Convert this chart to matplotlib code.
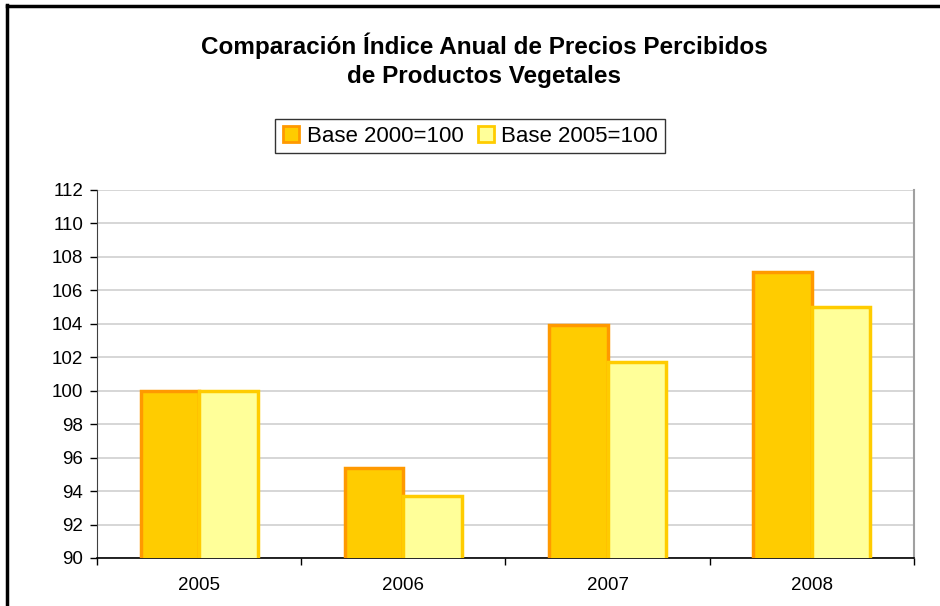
import matplotlib
matplotlib.use("Agg")
import matplotlib.pyplot as plt
import numpy as np
from matplotlib.lines import Line2D

plt.rcParams['font.family'] = ['Liberation Sans', 'DejaVu Sans']

years = ["2005", "2006", "2007", "2008"]
base2000 = [100.0, 95.4, 103.9, 107.1]
base2005 = [100.0, 93.7, 101.7, 105.0]
series_labels = ["Base 2000=100", "Base 2005=100"]
yticks = list(range(90, 113, 2))

W, H = 940, 606
fig = plt.figure(figsize=(W/100, H/100), dpi=100)
ax = fig.add_axes([97/W, 1-558/H, (914-97)/W, (558-190)/H])

x = np.arange(len(years))
bw = 0.287
ax.bar(x - bw/2, base2000, bw, color="#FFCC00", edgecolor="#FF9900", linewidth=2.5, zorder=3)
ax.bar(x + bw/2, base2005, bw, color="#FFFF99", edgecolor="#FFCC00", linewidth=2.5, zorder=3)

ax.set_ylim(90, 112)
ax.set_xlim(-0.5, len(years) - 0.5)
ax.set_yticks(yticks)
ax.set_yticklabels([str(t) for t in yticks], fontsize=13.5)
ax.set_xticks(x)
ax.set_xticklabels(years, fontsize=13.5)
ax.set_xticks(np.arange(len(years) + 1) - 0.5, minor=True)
ax.tick_params(axis='x', which='major', length=0, pad=14)
ax.tick_params(axis='x', which='minor', length=5, direction='out', color='black', width=1)
ax.tick_params(axis='y', length=5, direction='out', color='black', width=1, pad=5)
ax.yaxis.grid(True, color="#D0D0D0", linewidth=1.2, zorder=0)
ax.set_axisbelow(True)
ax.spines['left'].set_color('#404040')
ax.spines['bottom'].set_color('black')
ax.spines['bottom'].set_linewidth(1.2)
ax.spines['right'].set_color('#A0A0A0')
ax.spines['right'].set_linewidth(1.5)
ax.spines['top'].set_visible(False)

fig.text(484/W, 1-46/H, "Comparación Índice Anual de Precios Percibidos", ha='center', va='center',
         fontsize=17.5, fontweight='bold')
fig.text(484/W, 1-77/H, "de Productos Vegetales", ha='center', va='center',
         fontsize=17.5, fontweight='bold')

handles = [
    Line2D([], [], marker='s', linestyle='none', markersize=12, markerfacecolor="#FFCC00",
           markeredgecolor="#FF9900", markeredgewidth=2),
    Line2D([], [], marker='s', linestyle='none', markersize=12, markerfacecolor="#FFFF99",
           markeredgecolor="#FFCC00", markeredgewidth=2),
]
leg = fig.legend(handles, series_labels, loc='center', bbox_to_anchor=(470/W, 1-136/H),
                 ncol=2, fontsize=16, frameon=True, fancybox=False, edgecolor='black',
                 handlelength=0.8, handletextpad=0.3, columnspacing=0.6, borderpad=0.3)
leg.get_frame().set_linewidth(1.0)

# outer chart border (left and top visible)
fig.add_artist(Line2D([7/W, 7/W], [0, 1-5/H], color='black', linewidth=2.5, transform=fig.transFigure))
fig.add_artist(Line2D([7/W, 1], [1-6/H, 1-6/H], color='black', linewidth=2.5, transform=fig.transFigure))

fig.savefig("out.png", dpi=100)
